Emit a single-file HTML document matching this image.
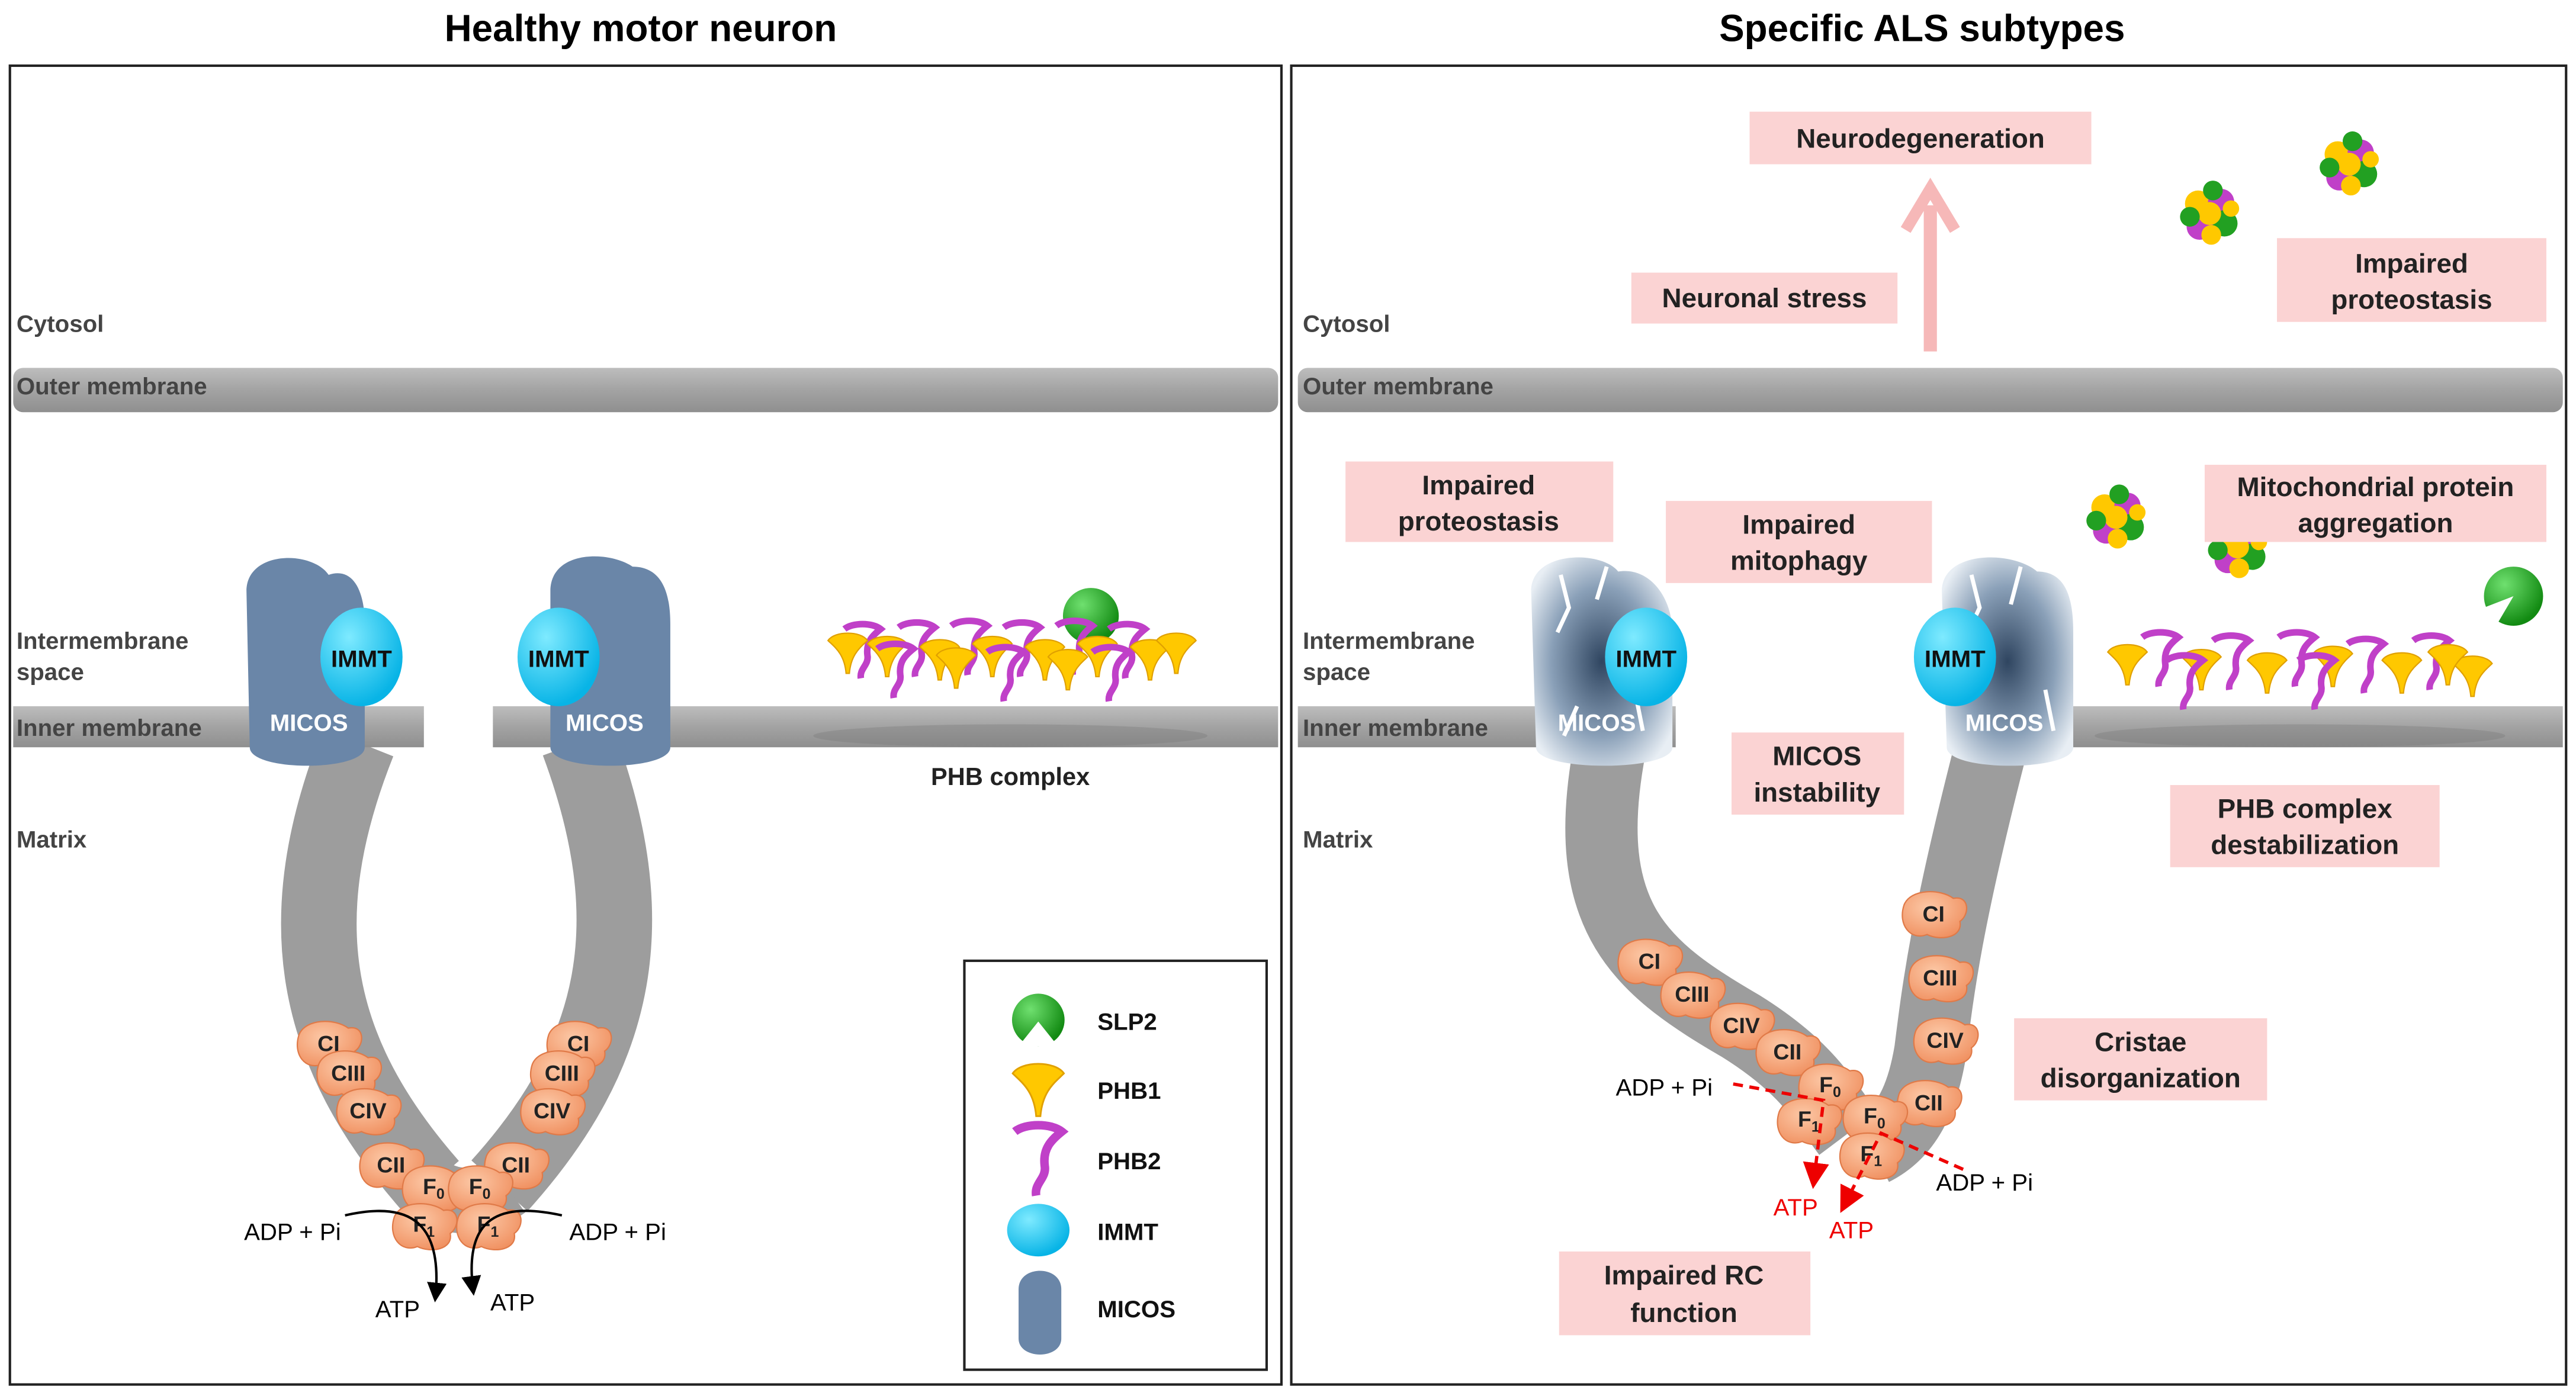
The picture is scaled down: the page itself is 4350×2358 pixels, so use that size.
<!DOCTYPE html>
<html><head><meta charset="utf-8"><style>
html,body{margin:0;padding:0;background:#fff}
svg{display:block}
text{font-family:"Liberation Sans",Arial,sans-serif}
.t{font-weight:bold;font-size:23px;fill:#000}
.lab{font-weight:bold;font-size:14.5px;fill:#444}
.pk{font-weight:bold;font-size:16.5px;fill:#222;text-anchor:middle}
.cx{font-weight:bold;font-size:13.5px;fill:#222;text-anchor:middle}
.sm{font-size:14.5px;fill:#000;text-anchor:middle}
.lg{font-weight:bold;font-size:14.5px;fill:#111}
.mic{font-weight:bold;font-size:14.5px;fill:#fff;text-anchor:middle}
.imt{font-weight:bold;font-size:14.5px;fill:#111;text-anchor:middle}
</style></head><body>
<svg width="4350" height="2358" viewBox="0 0 1568 850" xmlns="http://www.w3.org/2000/svg">
<defs>
<linearGradient id="mem" x1="0" y1="0" x2="0" y2="1"><stop offset="0" stop-color="#bdbdbd"/><stop offset=".5" stop-color="#a3a3a3"/><stop offset="1" stop-color="#8f8f8f"/></linearGradient>
<radialGradient id="cmp" cx=".4" cy=".35" r=".7"><stop offset="0" stop-color="#fcc8a6"/><stop offset="1" stop-color="#f09060"/></radialGradient>
<radialGradient id="gr" cx=".35" cy=".3" r=".7"><stop offset="0" stop-color="#6fe06f"/><stop offset="1" stop-color="#128a12"/></radialGradient>
<radialGradient id="cy" cx=".35" cy=".3" r=".7"><stop offset="0" stop-color="#7eeaff"/><stop offset="1" stop-color="#08b4e6"/></radialGradient>
<radialGradient id="sh" cx=".5" cy=".5" r=".6"><stop offset="0" stop-color="#2f4560"/><stop offset=".6" stop-color="#8aa0b8"/><stop offset="1" stop-color="#e8eef4"/></radialGradient>
<g id="cp"><path d="M-18,-6 C-14,-16 4,-16 12,-10 C22,-12 22,0 16,4 C18,14 4,16 -4,12 C-14,16 -22,6 -18,-6Z" fill="url(#cmp)" stroke="#e07a48" stroke-width=".8"/></g>
<g id="p1"><path d="M-12,-8 C-8,-14 8,-14 12,-8 C8,-4 2,0 1,12 L-1,12 C-2,0 -8,-4 -12,-8Z" fill="#ffc800" stroke="#e0a000" stroke-width=".8"/></g>
<g id="p2"><path d="M-11,-10 C-6,-14 6,-14 11,-10 C6,-6 2,-2 3,6 C4,12 -2,14 -1,20" fill="none" stroke="#c040c8" stroke-width="4"/></g>
<g id="agg"><circle cx="-7" cy="-6" r="8" fill="#ffc800"/><circle cx="7" cy="-7" r="8" fill="#c040c8"/><circle cx="9" cy="6" r="8" fill="#22a022"/><circle cx="-6" cy="8" r="8" fill="#c040c8"/><circle cx="0" cy="0" r="7" fill="#ffc800"/><circle cx="-12" cy="2" r="6" fill="#22a022"/><circle cx="1" cy="13" r="6" fill="#ffc800"/><circle cx="2" cy="-14" r="6" fill="#22a022"/><circle cx="13" cy="-3" r="5" fill="#ffc800"/></g>
<marker id="ab" markerWidth="8" markerHeight="8" refX="6" refY="4" orient="auto"><path d="M0,0 L8,4 L0,8Z" fill="#000"/></marker>
<marker id="ar" markerWidth="8" markerHeight="8" refX="6" refY="4" orient="auto"><path d="M0,0 L8,4 L0,8Z" fill="#e00"/></marker>
</defs>

<text class="t" x="390" y="25" text-anchor="middle">Healthy motor neuron</text>
<text class="t" x="1170" y="25" text-anchor="middle">Specific ALS subtypes</text>
<rect x="6" y="40" width="774" height="803" fill="none" stroke="#222" stroke-width="1.5"/>
<rect x="786" y="40" width="776" height="803" fill="none" stroke="#222" stroke-width="1.5"/>

<!-- LEFT PANEL -->
<rect x="8" y="224" width="770" height="27" rx="6" fill="url(#mem)"/>
<text class="lab" x="10" y="202">Cytosol</text>
<text class="lab" x="10" y="240">Outer membrane</text>
<path d="M218,452 C175,560 190,640 262,722 M352,452 C392,560 378,640 304,722" stroke="#9d9d9d" stroke-width="46" fill="none"/>
<path d="M258,722 Q283,740 308,722" stroke="#9d9d9d" stroke-width="40" fill="none"/>
<rect x="8" y="430" width="250" height="25" fill="url(#mem)"/>
<rect x="300" y="430" width="478" height="25" fill="url(#mem)"/>
<text class="lab" x="10" y="395">Intermembrane</text>
<text class="lab" x="10" y="414">space</text>
<text class="lab" x="10" y="448">Inner membrane</text>
<text class="lab" x="10" y="516">Matrix</text>
<path d="M150,360 C150,335 190,335 200,350 C215,345 222,360 222,380 L222,455 C222,470 152,470 152,455Z" fill="#6a86a8"/>
<ellipse cx="220" cy="400" rx="25" ry="30" fill="url(#cy)"/>
<text class="imt" x="220" y="406">IMMT</text>
<text class="mic" x="188" y="445">MICOS</text>
<path d="M335,360 C335,335 370,335 385,345 C405,345 408,365 408,380 L408,455 C408,470 335,470 335,455Z" fill="#6a86a8"/>
<ellipse cx="340" cy="400" rx="25" ry="30" fill="url(#cy)"/>
<text class="imt" x="340" y="406">IMMT</text>
<text class="mic" x="368" y="445">MICOS</text>
<ellipse cx="615" cy="448" rx="120" ry="7" fill="#777" opacity=".35"/>
<circle cx="664" cy="375" r="17" fill="url(#gr)"/>
<g>
<use href="#p2" x="525" y="393"/><use href="#p1" x="540" y="400"/><use href="#p2" x="558" y="392"/><use href="#p1" x="572" y="402"/><use href="#p2" x="590" y="391"/><use href="#p1" x="604" y="400"/><use href="#p2" x="622" y="392"/><use href="#p1" x="636" y="402"/><use href="#p2" x="654" y="391"/><use href="#p1" x="668" y="400"/><use href="#p2" x="686" y="393"/><use href="#p1" x="700" y="402"/>
<use href="#p1" x="516" y="398"/><use href="#p2" x="545" y="405"/><use href="#p1" x="582" y="407"/><use href="#p2" x="612" y="407"/><use href="#p1" x="650" y="408"/><use href="#p2" x="676" y="407"/><use href="#p1" x="716" y="398"/>
</g>
<text class="pk" x="615" y="478" style="font-size:15px">PHB complex</text>
<use href="#cp" x="200" y="636"/><text class="cx" x="200" y="640">CI</text>
<use href="#cp" x="212" y="654"/><text class="cx" x="212" y="658">CIII</text>
<use href="#cp" x="224" y="677"/><text class="cx" x="224" y="681">CIV</text>
<use href="#cp" x="238" y="710"/><text class="cx" x="238" y="714">CII</text>
<use href="#cp" x="264" y="724"/><text class="cx" x="264" y="727">F<tspan font-size="9" dy="3">0</tspan></text>
<use href="#cp" x="258" y="747"/><text class="cx" x="258" y="750">F<tspan font-size="9" dy="3">1</tspan></text>
<use href="#cp" x="352" y="636"/><text class="cx" x="352" y="640">CI</text>
<use href="#cp" x="342" y="654"/><text class="cx" x="342" y="658">CIII</text>
<use href="#cp" x="336" y="677"/><text class="cx" x="336" y="681">CIV</text>
<use href="#cp" x="314" y="710"/><text class="cx" x="314" y="714">CII</text>
<use href="#cp" x="292" y="724"/><text class="cx" x="292" y="727">F<tspan font-size="9" dy="3">0</tspan></text>
<use href="#cp" x="297" y="747"/><text class="cx" x="297" y="750">F<tspan font-size="9" dy="3">1</tspan></text>
<path d="M210,740 C245,732 270,740 265,790" stroke="#000" stroke-width="1.5" fill="none" marker-end="url(#ab)"/>
<path d="M342,740 C305,732 282,740 288,786" stroke="#000" stroke-width="1.5" fill="none" marker-end="url(#ab)"/>
<text class="sm" x="178" y="755">ADP + Pi</text>
<text class="sm" x="376" y="755">ADP + Pi</text>
<text class="sm" x="242" y="802">ATP</text>
<text class="sm" x="312" y="798">ATP</text>
<rect x="587" y="585" width="184" height="249" fill="#fff" stroke="#222" stroke-width="1.5"/>
<circle cx="632" cy="621" r="16" fill="url(#gr)"/><path d="M632,622 L620,637 L644,637Z" fill="#fff"/>
<text class="lg" x="668" y="627">SLP2</text>
<g transform="translate(632,664) scale(1.3)"><path d="M-12,-8 C-8,-14 8,-14 12,-8 C8,-4 2,0 1,12 L-1,12 C-2,0 -8,-4 -12,-8Z" fill="#ffc800" stroke="#e0a000" stroke-width=".8"/></g>
<text class="lg" x="668" y="669">PHB1</text>
<g transform="translate(632,702) scale(1.3)"><path d="M-11,-10 C-6,-14 6,-14 11,-10 C6,-6 2,-2 3,6 C4,12 -2,14 -1,20" fill="none" stroke="#c040c8" stroke-width="4"/></g>
<text class="lg" x="668" y="712">PHB2</text>
<ellipse cx="632" cy="749" rx="19" ry="16" fill="url(#cy)"/>
<text class="lg" x="668" y="755">IMMT</text>
<path d="M620,785 C620,770 646,770 646,785 L646,815 C646,828 620,828 620,815Z" fill="#6a86a8"/>
<text class="lg" x="668" y="802">MICOS</text>

<!-- RIGHT PANEL -->
<rect x="790" y="224" width="770" height="27" rx="6" fill="url(#mem)"/>
<text class="lab" x="793" y="202">Cytosol</text>
<text class="lab" x="793" y="240">Outer membrane</text>
<path d="M980,455 C960,560 1000,590 1060,625 C1100,650 1110,670 1125,690 M1212,455 C1185,560 1180,600 1175,640 C1170,670 1160,690 1140,700" stroke="#9d9d9d" stroke-width="44" fill="none"/>
<rect x="790" y="430" width="230" height="25" fill="url(#mem)"/>
<rect x="1190" y="430" width="370" height="25" fill="url(#mem)"/>
<text class="lab" x="793" y="395">Intermembrane</text>
<text class="lab" x="793" y="414">space</text>
<text class="lab" x="793" y="448">Inner membrane</text>
<text class="lab" x="793" y="516">Matrix</text>
<path d="M932,360 C932,335 975,335 985,348 C1005,345 1018,365 1018,385 L1018,455 C1018,470 935,470 935,455Z" fill="url(#sh)"/>
<path d="M950,350 L955,370 L948,385 M978,345 L972,365 M960,430 L952,448 M995,420 L1000,445" stroke="#fff" stroke-width="2.5" fill="none"/>
<ellipse cx="1002" cy="400" rx="25" ry="30" fill="url(#cy)"/>
<text class="imt" x="1002" y="406">IMMT</text>
<text class="mic" x="972" y="445">MICOS</text>
<path d="M1182,360 C1182,335 1225,335 1240,348 C1258,348 1262,365 1262,385 L1262,455 C1262,470 1185,470 1185,455Z" fill="url(#sh)"/>
<path d="M1200,350 L1205,370 L1198,385 M1230,345 L1224,368 M1245,420 L1250,445" stroke="#fff" stroke-width="2.5" fill="none"/>
<ellipse cx="1190" cy="400" rx="25" ry="30" fill="url(#cy)"/>
<text class="imt" x="1190" y="406">IMMT</text>
<text class="mic" x="1220" y="445">MICOS</text>
<ellipse cx="1400" cy="448" rx="125" ry="7" fill="#777" opacity=".35"/>
<use href="#p1" x="1295" y="405"/><use href="#p2" x="1315" y="398"/><use href="#p1" x="1340" y="408"/><use href="#p2" x="1358" y="400"/><use href="#p1" x="1380" y="410"/><use href="#p2" x="1398" y="398"/><use href="#p1" x="1420" y="406"/><use href="#p2" x="1440" y="402"/><use href="#p1" x="1462" y="410"/><use href="#p2" x="1480" y="400"/><use href="#p1" x="1505" y="412"/><use href="#p2" x="1330" y="412"/><use href="#p2" x="1410" y="412"/><use href="#p1" x="1490" y="405"/>
<circle cx="1530" cy="363" r="18" fill="url(#gr)"/><path d="M1530,363 L1512,370 L1520,380Z" fill="#fff"/>
<use href="#agg" x="1345" y="130"/><use href="#agg" x="1430" y="100"/><use href="#agg" x="1288" y="315"/><use href="#agg" x="1362" y="333"/>
<path d="M1175,214 L1175,125" stroke="#f6b8b8" stroke-width="8"/>
<path d="M1160,140 L1175,115 L1190,140" stroke="#f6b8b8" stroke-width="7" fill="none"/>
<g fill="#fbd3d3">
<rect x="1065" y="68" width="208" height="32"/>
<rect x="993" y="166" width="162" height="31"/>
<rect x="1386" y="145" width="164" height="51"/>
<rect x="819" y="281" width="163" height="49"/>
<rect x="1014" y="305" width="162" height="50"/>
<rect x="1342" y="283" width="208" height="47"/>
<rect x="1054" y="446" width="105" height="50"/>
<rect x="1321" y="478" width="164" height="50"/>
<rect x="1226" y="620" width="154" height="50"/>
<rect x="949" y="762" width="153" height="51"/>
</g>
<text class="pk" x="1169" y="90">Neurodegeneration</text>
<text class="pk" x="1074" y="187">Neuronal stress</text>
<text class="pk" x="1468" y="166">Impaired</text><text class="pk" x="1468" y="188">proteostasis</text>
<text class="pk" x="900" y="301">Impaired</text><text class="pk" x="900" y="323">proteostasis</text>
<text class="pk" x="1095" y="325">Impaired</text><text class="pk" x="1095" y="347">mitophagy</text>
<text class="pk" x="1446" y="302">Mitochondrial protein</text><text class="pk" x="1446" y="324">aggregation</text>
<text class="pk" x="1106" y="466">MICOS</text><text class="pk" x="1106" y="488">instability</text>
<text class="pk" x="1403" y="498">PHB complex</text><text class="pk" x="1403" y="520">destabilization</text>
<text class="pk" x="1303" y="640">Cristae</text><text class="pk" x="1303" y="662">disorganization</text>
<text class="pk" x="1025" y="782">Impaired RC</text><text class="pk" x="1025" y="805">function</text>
<use href="#cp" x="1004" y="586"/><text class="cx" x="1004" y="590">CI</text>
<use href="#cp" x="1030" y="606"/><text class="cx" x="1030" y="610">CIII</text>
<use href="#cp" x="1060" y="625"/><text class="cx" x="1060" y="629">CIV</text>
<use href="#cp" x="1088" y="641"/><text class="cx" x="1088" y="645">CII</text>
<use href="#cp" x="1114" y="662"/><text class="cx" x="1114" y="665">F<tspan font-size="9" dy="3">0</tspan></text>
<use href="#cp" x="1101" y="683"/><text class="cx" x="1101" y="686">F<tspan font-size="9" dy="3">1</tspan></text>
<use href="#cp" x="1177" y="557"/><text class="cx" x="1177" y="561">CI</text>
<use href="#cp" x="1181" y="596"/><text class="cx" x="1181" y="600">CIII</text>
<use href="#cp" x="1184" y="634"/><text class="cx" x="1184" y="638">CIV</text>
<use href="#cp" x="1174" y="672"/><text class="cx" x="1174" y="676">CII</text>
<use href="#cp" x="1141" y="681"/><text class="cx" x="1141" y="684">F<tspan font-size="9" dy="3">0</tspan></text>
<use href="#cp" x="1139" y="704"/><text class="cx" x="1139" y="707">F<tspan font-size="9" dy="3">1</tspan></text>
<path d="M1055,660 L1110,670 L1104,720" stroke="#e00" stroke-width="2" stroke-dasharray="6,4" fill="none" marker-end="url(#ar)"/>
<path d="M1195,712 L1145,690 L1122,735" stroke="#e00" stroke-width="2" stroke-dasharray="6,4" fill="none" marker-end="url(#ar)"/>
<text class="sm" x="1013" y="667">ADP + Pi</text>
<text class="sm" x="1208" y="725">ADP + Pi</text>
<text class="sm" x="1093" y="740" style="fill:#e00">ATP</text>
<text class="sm" x="1127" y="754" style="fill:#e00">ATP</text>
</svg>
</body></html>
